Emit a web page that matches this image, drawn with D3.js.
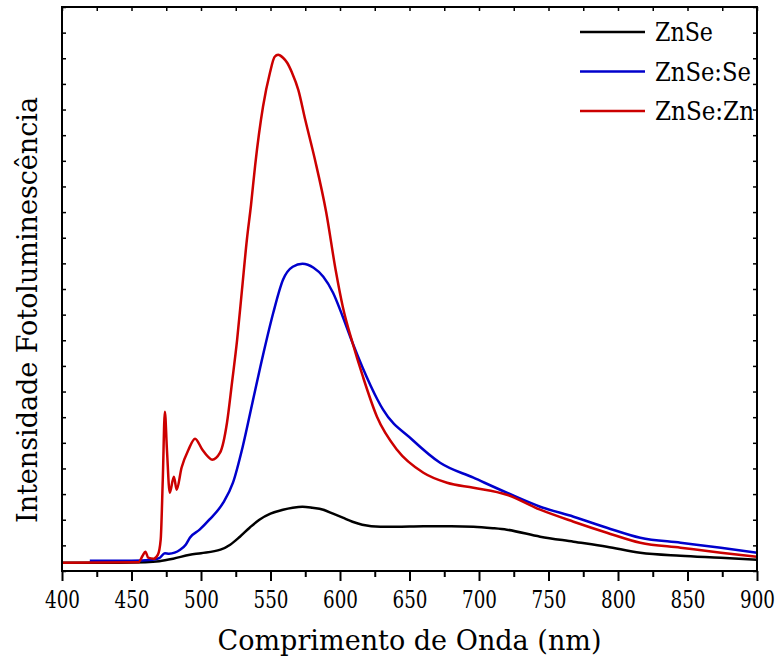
<!DOCTYPE html>
<html>
<head>
<meta charset="utf-8">
<script src="https://cdn.jsdelivr.net/npm/d3@7"></script>
<style>
  body { margin: 0; background: #fff; }
</style>
</head>
<body>
<div id="chart"></div>
<script>
// Photoluminescence spectra, intensity in arbitrary units
const xTicks = [400, 450, 500, 550, 600, 650, 700, 750, 800, 850, 900];
const seriesNames = ["ZnSe", "ZnSe:Se", "ZnSe:Zn"];
const seriesColors = ["#000000", "#0000cc", "#cc0000"];
const serif = "'DejaVu Serif', 'Liberation Serif', serif";

const znseWave = [400, 440, 460, 470, 480, 492, 500, 514, 521, 528, 535, 542, 550, 559, 566, 573, 580, 588, 595, 602, 609, 616, 629, 640, 660, 680, 696, 710, 720, 744, 768, 792, 816, 845, 874, 900];
const znseInt = [324, 324, 343, 382, 480, 636, 694, 831, 1026, 1338, 1689, 2001, 2235, 2391, 2469, 2508, 2469, 2391, 2235, 2079, 1923, 1806, 1728, 1728, 1747, 1747, 1728, 1669, 1611, 1338, 1143, 948, 714, 597, 519, 441];

const seWave = [420, 450, 465, 470, 474, 477, 481, 485, 489, 492, 499, 506, 516, 523, 530, 537, 545, 552, 559, 566, 573, 581, 588, 595, 602, 609, 616, 627, 631, 652, 672, 696, 720, 744, 768, 792, 816, 845, 874, 900];
const seInt = [402, 402, 441, 499, 694, 675, 714, 831, 1026, 1300, 1611, 2001, 2664, 3444, 4848, 6564, 8514, 10074, 11361, 11868, 11985, 11829, 11478, 10854, 9918, 8904, 7968, 6681, 6291, 5121, 4224, 3639, 3054, 2508, 2118, 1689, 1299, 1104, 909, 714];

const znWave = [400, 455, 458, 460, 462, 466, 469, 471, 472.5, 474, 475.5, 477.5, 480.5, 482.5, 486, 491, 495.7, 501, 505, 508, 513.7, 518.7, 522.3, 526, 529.5, 533, 536, 539, 544.6, 549.6, 553, 555.5, 559, 562, 565.5, 570, 575, 582, 590, 597, 602, 609, 616.5, 626.6, 641, 660, 677, 696, 720, 744, 768, 792, 816, 845, 874, 900];
const znInt = [324, 343, 597, 753, 519, 480, 636, 1221, 3561, 6213, 4731, 3054, 3678, 3171, 4029, 4731, 5160, 4731, 4458, 4341, 4614, 5784, 7344, 9021, 10971, 12921, 14286, 15846, 18108, 19434, 20058, 20136, 20019, 19824, 19434, 18771, 17600, 16041, 14013, 11700, 10308, 8904, 7578, 6018, 4731, 3834, 3444, 3249, 2976, 2391, 1923, 1494, 1104, 909, 714, 558];

const width = 778, height = 662;
const margin = { top: 7, right: 21, bottom: 91, left: 62 };
const innerW = width - margin.left - margin.right;
const innerH = height - margin.top - margin.bottom;

const svg = d3.select("#chart").append("svg").attr("width", width).attr("height", height);
const g = svg.append("g").attr("transform", `translate(${margin.left},${margin.top})`);

const xScale = d3.scaleLinear().domain([400, 900]).range([0, innerW]);
const yScale = d3.scaleLinear().domain([0, 22000]).range([innerH, 0]);

// curves
const line = d3.line()
    .x(d => xScale(d[0]))
    .y(d => yScale(d[1]))
    .curve(d3.curveMonotoneX);

const series = [
    d3.zip(znseWave, znseInt),
    d3.zip(seWave, seInt),
    d3.zip(znWave, znInt)
];

g.append("g").selectAll("path")
    .data(series).enter().append("path")
    .attr("fill", "none")
    .attr("stroke", (d, i) => seriesColors[i])
    .attr("stroke-width", 2.5)
    .attr("stroke-linejoin", "round")
    .attr("d", line);

// axes
const minorX = d3.range(425, 900, 50);
const yTickVals = d3.range(0, 22001, 1000);

const bottomAxis = g.append("g").attr("transform", `translate(0,${innerH})`)
    .call(d3.axisBottom(xScale).tickValues(xTicks).tickSize(10).tickPadding(10));
bottomAxis.attr("font-family", serif).attr("font-size", 24);
bottomAxis.selectAll("text").attr("fill", "#000").attr("textLength", 35).attr("lengthAdjust", "spacingAndGlyphs");
bottomAxis.selectAll("line").attr("stroke-width", 2);

const bottomMinor = g.append("g").attr("transform", `translate(0,${innerH})`)
    .call(d3.axisBottom(xScale).tickValues(minorX).tickSize(6).tickFormat(""));
bottomMinor.selectAll("line").attr("stroke-width", 2);

const topAxis = g.append("g")
    .call(d3.axisTop(xScale).tickValues(d3.range(400, 901, 25)).tickSize(-4).tickFormat(""));
const leftAxis = g.append("g")
    .call(d3.axisLeft(yScale).tickValues(yTickVals).tickSize(-4).tickFormat(""));
const rightAxis = g.append("g").attr("transform", `translate(${innerW},0)`)
    .call(d3.axisRight(yScale).tickValues(yTickVals).tickSize(-4).tickFormat(""));
[topAxis, leftAxis, rightAxis].forEach(a => a.selectAll("line").attr("stroke-width", 1.5));

g.selectAll(".domain").remove();

g.append("rect")
    .attr("width", innerW)
    .attr("height", innerH)
    .attr("fill", "none")
    .attr("stroke", "#000")
    .attr("stroke-width", 2);

// axis titles
svg.append("text")
    .attr("x", margin.left + innerW / 2)
    .attr("y", 650)
    .attr("text-anchor", "middle")
    .attr("font-family", serif)
    .attr("font-size", 28)
    .attr("textLength", 384)
    .attr("lengthAdjust", "spacingAndGlyphs")
    .text("Comprimento de Onda (nm)");

svg.append("text")
    .attr("transform", "translate(37,310) rotate(-90)")
    .attr("text-anchor", "middle")
    .attr("font-family", serif)
    .attr("font-size", 27)
    .attr("textLength", 426)
    .attr("lengthAdjust", "spacingAndGlyphs")
    .text("Intensidade Fotoluminescência");

// legend
const legendWidths = [58, 96, 99];
const legend = svg.append("g").selectAll("g")
    .data(seriesNames).enter().append("g")
    .attr("transform", (d, i) => `translate(580,${32 + i * 39.5})`);

legend.append("line")
    .attr("x1", 0).attr("x2", 65)
    .attr("stroke", (d, i) => seriesColors[i])
    .attr("stroke-width", 2.5);

legend.append("text")
    .attr("x", 75)
    .attr("y", 9)
    .attr("font-family", serif)
    .attr("font-size", 26)
    .attr("textLength", (d, i) => legendWidths[i])
    .attr("lengthAdjust", "spacingAndGlyphs")
    .text(d => d);
</script>
</body>
</html>
